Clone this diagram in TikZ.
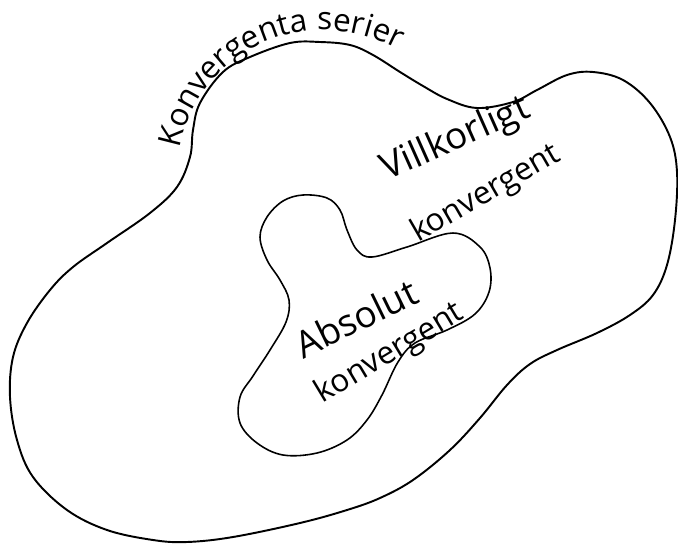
\documentclass[tikz,border=0pt]{standalone}
\usepackage{fontspec}
\setmainfont{Open Sans}
\usepackage{tikz}
\usetikzlibrary{decorations.text}

\begin{document}
\begin{tikzpicture}[
  x=0.02cm, y=-0.02cm,
  outerblob/.style={line width=1.1pt, line join=round},
  innerblob/.style={line width=0.9pt, line join=round},
  bigtext/.style={font=\fontsize{21}{25}\selectfont, inner sep=0pt},
  smalltext/.style={font=\fontsize{18}{22}\selectfont, inner sep=0pt},
]
  \useasboundingbox (0,0) rectangle (678,544);

  % Outer set: convergent series
  \draw[outerblob] plot[smooth cycle, tension=0.6] coordinates {
    (320,42) (350,45) (373,55) (400,72) (423,86) (447,99) (477,108)
    (513,102) (537,90) (567,75) (593,72) (623,80) (650,103) (670,137)
    (677,172) (675,220) (667,265) (653,295) (630,315) (597,333)
    (557,350) (530,364) (507,385) (480,418) (450,450) (413,480)
    (380,498) (347,510) (300,523) (233,537) (187,542) (153,540)
    (107,530) (67,510) (33,477) (17,440) (10,397) (13,357) (27,323)
    (50,290) (73,267) (107,243) (150,213) (177,187) (190,157)
    (193,130) (200,103) (223,72) (250,57) (290,43)
  };

  % Inner set: absolutely convergent
  \draw[innerblob] plot[smooth cycle, tension=0.6] coordinates {
    (303,195) (327,198) (340,210) (347,230) (357,250) (372,257)
    (407,247) (453,233) (480,247) (490,268) (489,292) (475,314)
    (447,330) (415,343) (398,362) (382,395) (367,420) (347,440)
    (317,453) (283,455) (257,443) (240,423) (240,397) (253,376)
    (270,350) (286,322) (289,300) (280,280) (267,260) (260,237)
    (267,217) (283,201)
  };

  % Label along the outer boundary
  \coordinate (arcstart) at (178,162);
  \coordinate (arctop) at (305,31);
  \coordinate (arcend) at (410,56);
  \path[decorate, decoration={text along path, text align=center,
      text={|\fontsize{18}{21}\selectfont|Konvergenta serier}}]
    (arcstart) .. controls (184,98) and (230,42) .. (arctop)
               .. controls (348,26) and (385,40) .. (arcend);

  % Labels inside
  \node[bigtext, rotate=24] (villk) at (456,140) {Villkorligt};
  \node[smalltext, rotate=30] (villkkonv) at (486,194) {konvergent};
  \node[bigtext, rotate=26] (abs) at (356,318) {Absolut};
  \node[smalltext, rotate=31] (abskonv) at (390,354) {konvergent};

\end{tikzpicture}
\end{document}
